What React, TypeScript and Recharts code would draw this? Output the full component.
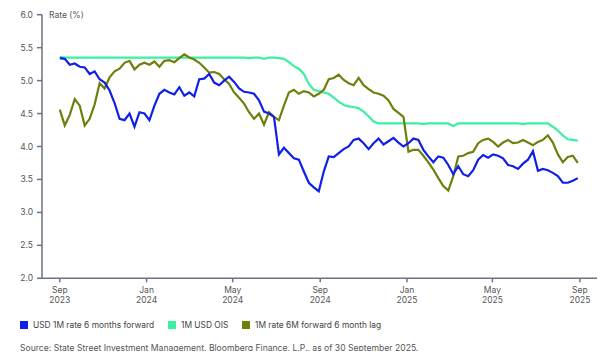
import React from 'react';
import { LineChart, Line, XAxis, YAxis } from 'recharts';

// weekly samples, starting 1 Sep 2023
const usdFwd = [
  5.34, 5.33, 5.24, 5.26, 5.21, 5.2, 5.1, 5.14, 5.02, 4.97,
  4.85, 4.66, 4.42, 4.4, 4.5, 4.3, 4.52, 4.5, 4.4, 4.62,
  4.8, 4.86, 4.82, 4.79, 4.9, 4.77, 4.82, 4.76, 5.02, 5.03,
  5.1, 4.97, 4.93, 5.0, 5.06, 4.98, 4.88, 4.83, 4.82, 4.8,
  4.7, 4.53, 4.5, 4.45, 3.88, 3.98, 3.9, 3.82, 3.8, 3.62,
  3.45, 3.38, 3.32, 3.62, 3.85, 3.84, 3.9, 3.96, 4.0, 4.1,
  4.12, 4.05, 3.96, 4.05, 4.12, 4.03, 4.08, 4.13, 4.06, 4.0,
  4.05, 4.12, 4.1, 3.95, 3.85, 3.76, 3.85, 3.83, 3.72, 3.58,
  3.7, 3.58, 3.55, 3.64, 3.8, 3.87, 3.83, 3.88, 3.86, 3.82,
  3.72, 3.7, 3.66, 3.74, 3.8, 3.93, 3.63, 3.66, 3.64, 3.6,
  3.55, 3.45, 3.45, 3.48, 3.52,
];

const usdOis = [
  5.36, 5.35, 5.35, 5.35, 5.35, 5.35, 5.35, 5.35, 5.35, 5.35,
  5.35, 5.35, 5.35, 5.35, 5.35, 5.35, 5.35, 5.35, 5.35, 5.35,
  5.35, 5.35, 5.35, 5.35, 5.35, 5.35, 5.35, 5.35, 5.35, 5.35,
  5.35, 5.35, 5.35, 5.35, 5.35, 5.35, 5.35, 5.35, 5.34, 5.35,
  5.35, 5.33, 5.35, 5.35, 5.34, 5.33, 5.28, 5.22, 5.18, 5.1,
  4.95, 4.86, 4.84, 4.82, 4.8, 4.74, 4.68, 4.63, 4.61, 4.6,
  4.58, 4.53, 4.46, 4.38, 4.35, 4.35, 4.35, 4.35, 4.35, 4.35,
  4.35, 4.35, 4.35, 4.34, 4.35, 4.35, 4.35, 4.35, 4.35, 4.31,
  4.35, 4.35, 4.35, 4.35, 4.35, 4.35, 4.35, 4.35, 4.35, 4.35,
  4.35, 4.35, 4.35, 4.34, 4.35, 4.35, 4.35, 4.35, 4.35, 4.3,
  4.24, 4.17, 4.11, 4.1, 4.09,
];

const lagged = [
  4.56, 4.32, 4.48, 4.72, 4.62, 4.32, 4.42, 4.64, 4.96, 4.88,
  5.05, 5.14, 5.18, 5.27, 5.3, 5.17, 5.24, 5.27, 5.24, 5.29,
  5.21, 5.3, 5.31, 5.28, 5.34, 5.4, 5.35, 5.32, 5.27, 5.2,
  5.12, 5.13, 5.1, 5.02, 4.95, 4.82, 4.74, 4.65, 4.52, 4.42,
  4.5, 4.33, 4.52, 4.45, 4.4, 4.62, 4.82, 4.86, 4.8, 4.84,
  4.82, 4.76, 4.8, 4.86, 5.02, 5.04, 5.09, 5.01, 4.96, 4.93,
  5.04, 4.93, 4.87, 4.82, 4.8, 4.77, 4.7, 4.57, 4.51, 4.45,
  3.92, 3.95, 3.95, 3.86, 3.76, 3.65, 3.52, 3.4, 3.33, 3.55,
  3.85, 3.86, 3.9, 3.92, 4.05, 4.1, 4.12, 4.07, 4.0, 4.06,
  4.1, 4.05, 4.06, 4.1, 4.06, 4.02, 4.07, 4.1, 4.17, 4.06,
  3.88, 3.76, 3.84, 3.86, 3.75,
];

// days since 1 Sep 2023
const tickDays = [0, 122, 243, 366, 488, 608, 731];
const tickMonths = ['Sep', 'Jan', 'May', 'Sep', 'Jan', 'May', 'Sep'];
const tickYears = ['2023', '2024', '2024', '2024', '2025', '2025', '2025'];
const yTicks = [2, 2.5, 3, 3.5, 4, 4.5, 5, 5.5, 6];

const BLUE = '#1020e8';
const MINT = '#3bf0a0';
const OLIVE = '#6e7f0c';
const AXIS = '#6f7080';
const FONT = 'Inter, "Noto Sans", sans-serif';

const rows = usdFwd.map((v, i) => ({
  day: i * 7,
  fwd: v,
  ois: usdOis[i],
  lag: lagged[i],
}));

const legendItems = [
  { label: 'USD 1M rate 6 months forward', color: BLUE, left: 12 },
  { label: '1M USD OIS', color: MINT, left: 160 },
  { label: '1M rate 6M forward 6 month lag', color: OLIVE, left: 234 },
];

const XTick = ({ x, y, payload }: any) => {
  const i = tickDays.indexOf(payload.value);
  return (
    <g transform={`translate(${x},${y})`}>
      <text textAnchor="middle" fill="#555" fontSize={8.5} fontFamily={FONT}>
        <tspan x={0} dy={8.5}>{tickMonths[i]}</tspan>
        <tspan x={0} dy={10.5}>{tickYears[i]}</tspan>
      </text>
    </g>
  );
};

export default function App() {
  return (
    <div style={{ position: 'relative', width: 598, height: 343, fontFamily: FONT }}>
      <LineChart
        width={598}
        height={300}
        data={rows}
        margin={{ top: 6.7, right: 9, left: 0, bottom: 0 }}
        style={{ overflow: 'visible' }}
      >
        <XAxis
          dataKey="day"
          type="number"
          domain={[-25, 755]}
          ticks={tickDays}
          tick={<XTick />}
          tickSize={4}
          tickMargin={2}
          height={29.7}
          stroke={AXIS}
          strokeWidth={1.5}
        />
        <YAxis
          type="number"
          domain={[2, 6]}
          ticks={yTicks}
          tickFormatter={(v: number) => v.toFixed(1)}
          width={34}
          tickSize={5}
          tickMargin={4}
          stroke={AXIS}
          strokeWidth={1.5}
          tick={{ fill: '#555', fontSize: 8.5, fontFamily: FONT }}
        />
        <Line type="linear" dataKey="ois" stroke={MINT} strokeWidth={2.2} dot={false} isAnimationActive={false} />
        <Line type="linear" dataKey="lag" stroke={OLIVE} strokeWidth={2.2} dot={false} isAnimationActive={false} />
        <Line type="linear" dataKey="fwd" stroke={BLUE} strokeWidth={2.2} dot={false} isAnimationActive={false} />
      </LineChart>
      <span style={{ position: 'absolute', left: 41, top: 1.5, fontSize: 8.5, color: '#555' }}>Rate (%)</span>
      {legendItems.map((it) => (
        <div
          key={it.label}
          style={{ position: 'absolute', left: it.left, top: 312, display: 'flex', alignItems: 'center', fontSize: 8.4, color: '#444' }}
        >
          <span style={{ display: 'inline-block', width: 7.5, height: 7.5, background: it.color, marginRight: 5.5 }} />
          {it.label}
        </div>
      ))}
      <div style={{ position: 'absolute', left: 12, top: 336, fontSize: 8.6, lineHeight: 1, color: '#555', whiteSpace: 'nowrap' }}>
        Source: State Street Investment Management, Bloomberg Finance, L.P., as of 30 September 2025.
      </div>
    </div>
  );
}
